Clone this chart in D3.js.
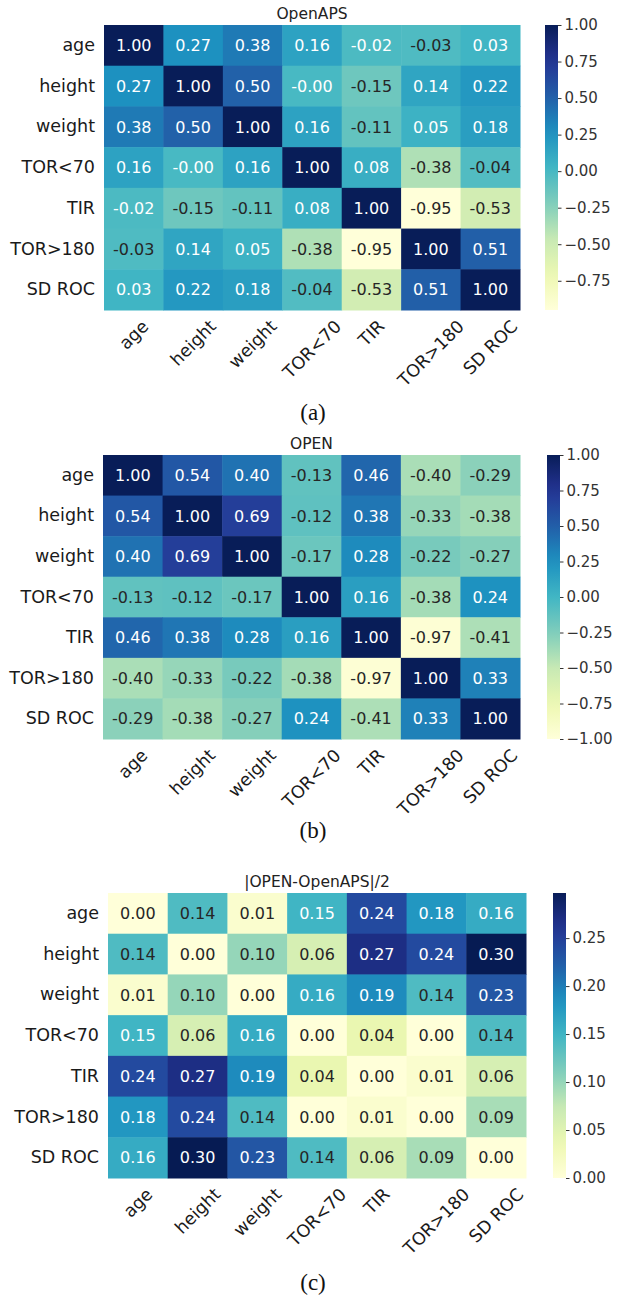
<!DOCTYPE html>
<html>
<head>
<meta charset="utf-8">
<script src="https://cdn.jsdelivr.net/npm/d3@7"></script>
<style>
  body { margin: 0; background: #fff; }
  text { font-family: "DejaVu Sans", sans-serif; }
</style>
</head>
<body>
<div id="chart"></div>
<script>
const features = ["age", "height", "weight", "TOR<70", "TIR", "TOR>180", "SD ROC"];

// correlation matrices
const openapsCorr = [
    [1.00, 0.27, 0.38, 0.16, -0.02, -0.03, 0.03],
    [0.27, 1.00, 0.50, -0.004, -0.15, 0.14, 0.22],
    [0.38, 0.50, 1.00, 0.16, -0.11, 0.05, 0.18],
    [0.16, -0.004, 0.16, 1.00, 0.08, -0.38, -0.04],
    [-0.02, -0.15, -0.11, 0.08, 1.00, -0.95, -0.53],
    [-0.03, 0.14, 0.05, -0.38, -0.95, 1.00, 0.51],
    [0.03, 0.22, 0.18, -0.04, -0.53, 0.51, 1.00]
];
const openCorr = [
    [1.00, 0.54, 0.40, -0.13, 0.46, -0.40, -0.29],
    [0.54, 1.00, 0.69, -0.12, 0.38, -0.33, -0.38],
    [0.40, 0.69, 1.00, -0.17, 0.28, -0.22, -0.27],
    [-0.13, -0.12, -0.17, 1.00, 0.16, -0.38, 0.24],
    [0.46, 0.38, 0.28, 0.16, 1.00, -0.97, -0.41],
    [-0.40, -0.33, -0.22, -0.38, -0.97, 1.00, 0.33],
    [-0.29, -0.38, -0.27, 0.24, -0.41, 0.33, 1.00]
];
const halfDiff = [
    [0.00, 0.14, 0.01, 0.15, 0.24, 0.18, 0.16],
    [0.14, 0.00, 0.10, 0.06, 0.27, 0.24, 0.30],
    [0.01, 0.10, 0.00, 0.16, 0.19, 0.14, 0.23],
    [0.15, 0.06, 0.16, 0.00, 0.04, 0.00, 0.14],
    [0.24, 0.27, 0.19, 0.04, 0.00, 0.01, 0.06],
    [0.18, 0.24, 0.14, 0.00, 0.01, 0.00, 0.09],
    [0.16, 0.30, 0.23, 0.14, 0.06, 0.09, 0.00]
];

const titles = ["OpenAPS", "OPEN", "|OPEN-OpenAPS|/2"];
const captions = ["(a)", "(b)", "(c)"];
const colorDomains = [[-0.95, 1.0], [-1.0, 1.0], [0.0, 0.297]];
const colorTicks = [
    [-0.75, -0.5, -0.25, 0, 0.25, 0.5, 0.75, 1.0],
    [-1.0, -0.75, -0.5, -0.25, 0, 0.25, 0.5, 0.75, 1.0],
    [0, 0.05, 0.10, 0.15, 0.20, 0.25]
];

const W = 623, H = 1303;
const panels = [
    {data: openapsCorr, left: 104, right: 520, top: 25, bottom: 310, cbX: 545, capY: 420},
    {data: openCorr, left: 103, right: 520, top: 455, bottom: 739, cbX: 547, capY: 838},
    {data: halfDiff, left: 108, right: 526, top: 893, bottom: 1178, cbX: 553, capY: 1290}
];
const labelSize = 17.5;

// matplotlib's YlGnBu is a linear blend of the 9 brewer colours
const ylgnbu = d3.piecewise(d3.interpolateRgb, d3.schemeYlGnBu[9]);

function luminance(c) {
    const rgb = d3.rgb(c);
    const f = v => { v /= 255; return v <= 0.03928 ? v / 12.92 : Math.pow((v + 0.055) / 1.055, 2.4); };
    return 0.2126 * f(rgb.r) + 0.7152 * f(rgb.g) + 0.0722 * f(rgb.b);
}

const svg = d3.select("#chart").append("svg")
    .attr("width", W)
    .attr("height", H);

const defs = svg.append("defs");

panels.forEach((p, k) => {
    const g = svg.append("g");
    const color = d3.scaleSequential(ylgnbu).domain(colorDomains[k]);

    const x = d3.scaleBand().domain(features).range([p.left, p.right]);
    const y = d3.scaleBand().domain(features).range([p.top, p.bottom]);

    const cells = [];
    p.data.forEach((row, i) => row.forEach((v, j) => cells.push({r: features[i], c: features[j], v: v})));

    g.selectAll("rect.cell")
        .data(cells)
        .join("rect")
            .attr("class", "cell")
            .attr("x", d => x(d.c))
            .attr("y", d => y(d.r))
            .attr("width", x.bandwidth() + 0.5)
            .attr("height", y.bandwidth() + 0.5)
            .attr("fill", d => color(d.v));

    g.selectAll("text.annot")
        .data(cells)
        .join("text")
            .attr("class", "annot")
            .attr("x", d => x(d.c) + x.bandwidth() / 2)
            .attr("y", d => y(d.r) + y.bandwidth() / 2)
            .attr("dy", "0.36em")
            .attr("text-anchor", "middle")
            .attr("font-size", 16)
            .attr("fill", d => luminance(color(d.v)) > 0.408 ? "#262626" : "#ffffff")
            .text(d => d.v.toFixed(2));

    // title
    g.append("text")
        .attr("x", (p.left + p.right) / 2)
        .attr("y", p.top - 6)
        .attr("text-anchor", "middle")
        .attr("font-size", 15.5)
        .attr("fill", "#222")
        .text(titles[k]);

    // row labels
    const yAxis = g.append("g")
        .attr("transform", `translate(${p.left},0)`)
        .call(d3.axisLeft(y).tickSize(0).tickPadding(9));
    yAxis.select(".domain").remove();
    yAxis.selectAll("text")
        .attr("font-size", labelSize)
        .attr("fill", "#1a1a1a")
        .style("font-family", "DejaVu Sans");

    // column labels, rotated 45 and centred under each column
    const xAxis = g.append("g")
        .attr("transform", `translate(0,${p.bottom})`)
        .call(d3.axisBottom(x).tickSize(0));
    xAxis.select(".domain").remove();
    xAxis.selectAll("text")
        .attr("font-size", labelSize)
        .attr("fill", "#1a1a1a")
        .style("font-family", "DejaVu Sans")
        .attr("y", 0)
        .attr("dy", "0.35em")
        .attr("text-anchor", "middle")
        .attr("transform", function () {
            const w = this.getComputedTextLength();
            const off = 7 + (w + labelSize) / (2 * Math.SQRT2);
            return `translate(0,${off}) rotate(-45)`;
        });

    // colorbar
    const cbW = 13;
    const gradId = "grad" + k;
    const grad = defs.append("linearGradient")
        .attr("id", gradId)
        .attr("x1", 0).attr("y1", 1).attr("x2", 0).attr("y2", 0);
    d3.range(0, 1.0001, 0.05).forEach(t => {
        grad.append("stop")
            .attr("offset", t)
            .attr("stop-color", color(colorDomains[k][0] + t * (colorDomains[k][1] - colorDomains[k][0])));
    });
    const cbScale = d3.scaleLinear().domain(colorDomains[k]).range([p.bottom, p.top]);
    g.append("rect")
        .attr("x", p.cbX)
        .attr("y", p.top)
        .attr("width", cbW)
        .attr("height", p.bottom - p.top)
        .attr("fill", `url(#${gradId})`);

    const cbAxis = g.append("g")
        .attr("transform", `translate(${p.cbX + cbW},0)`)
        .call(d3.axisRight(cbScale)
            .tickValues(colorTicks[k])
            .tickSize(3.5)
            .tickPadding(3)
            .tickFormat(v => d3.format(".2f")(v).replace("-", "\u2212")));
    cbAxis.select(".domain").remove();
    cbAxis.selectAll("line").attr("stroke", "#333");
    cbAxis.selectAll("text")
        .attr("font-size", 15)
        .attr("fill", "#333")
        .style("font-family", "DejaVu Sans");

    // panel caption
    svg.append("text")
        .attr("x", 313)
        .attr("y", p.capY)
        .attr("text-anchor", "middle")
        .attr("font-size", 23)
        .style("font-family", "Liberation Serif")
        .attr("fill", "#111")
        .text(captions[k]);
});
</script>
</body>
</html>
